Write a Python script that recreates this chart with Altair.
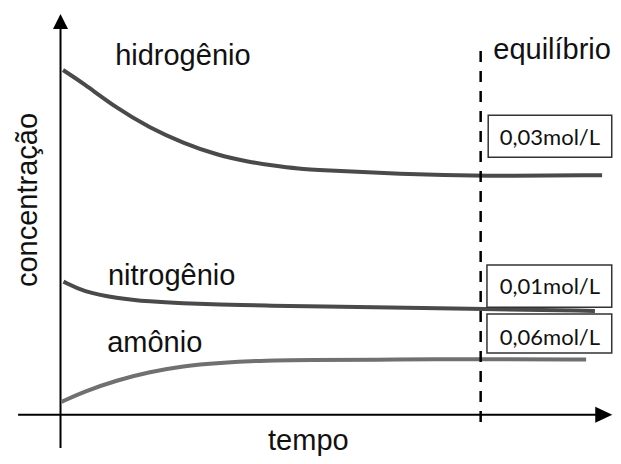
import altair as alt
import pandas as pd

h_t = [0.06, 0.54, 1.34, 2.13, 2.92, 3.73, 4.51, 4.99, 5.70, 6.18, 8.08, 10.01, 12.89]
h_c = [100.0, 96.2, 88.9, 83.2, 78.8, 75.3, 73.3, 72.4, 71.3, 71.0, 69.8, 69.2, 69.5]

n_t = [0.07, 0.54, 1.33, 2.13, 2.92, 3.72, 4.99, 5.70, 10.01, 12.72]
n_c = [38.6, 35.7, 33.8, 32.8, 32.3, 32.0, 31.6, 31.5, 30.65, 30.1]

a_t = [0.02, 0.54, 1.34, 2.13, 2.92, 3.73, 4.99, 5.70, 8.08, 10.01, 12.51]
a_c = [3.7, 6.6, 10.0, 12.4, 14.1, 15.0, 15.8, 15.85, 16.0, 16.1, 16.0]

series_names = ["hidrogênio", "nitrogênio", "amônio"]
series_colors = ["#4a4a4a", "#4a4a4a", "#707070"]

label_text = ["hidrogênio", "nitrogênio", "amônio", "equilíbrio", "tempo"]
label_t = [1.30, 1.13, 1.11, 10.30, 4.94]
label_c = [101.4, 37.6, 18.2, 103.2, -10.2]

box_text = ["0,03mol/L", "0,01mol/L", "0,06mol/L"]
box_t1 = [10.18, 10.15, 10.15]
box_t2 = [13.12, 13.12, 13.12]
box_c1 = [86.9, 43.4, 29.2]
box_c2 = [74.7, 31.2, 17.9]
box_text_t = [11.65, 11.65, 11.65]
box_text_c = [78.2, 35.0, 20.2]

equilibrium_t = 10.0

# ---- frames ----
rows = []
for name, ts, cs in zip(series_names, [h_t, n_t, a_t], [h_c, n_c, a_c]):
    for i, (t, c) in enumerate(zip(ts, cs)):
        rows.append({"serie": name, "t": t, "c": c, "o": i})
curves_df = pd.DataFrame(rows)
labels_df = pd.DataFrame({"text": label_text, "t": label_t, "c": label_c})
boxes_df = pd.DataFrame({"t1": box_t1, "t2": box_t2, "c1": box_c1, "c2": box_c2,
                         "text": box_text, "tt": box_text_t, "tc": box_text_c})

xs = alt.Scale(domain=[-1.25, 13.15], nice=False, zero=False)
ys = alt.Scale(domain=[-12, 118], nice=False, zero=False)
X = lambda f: alt.X(f, type="quantitative", scale=xs, axis=None)
Y = lambda f: alt.Y(f, type="quantitative", scale=ys, axis=None)

# axes
yaxis_df = pd.DataFrame({"t": [0.0], "c1": [-9.7], "c2": [111.9]})
xaxis_df = pd.DataFrame({"c": [0.0], "t1": [-1.01], "t2": [12.79]})
yaxis = alt.Chart(yaxis_df).mark_rule(color="#000", strokeWidth=2).encode(
    x=X("t"), y=Y("c1"), y2="c2")
xaxis = alt.Chart(xaxis_df).mark_rule(color="#000", strokeWidth=2).encode(
    y=Y("c"), x=X("t1"), x2="t2")
yarrow = alt.Chart(pd.DataFrame({"t": [0.0], "c": [114.1]})).mark_point(
    shape="M0,-1L1,1L-1,1Z", size=225, filled=True, color="#000", opacity=1).encode(
    x=X("t"), y=Y("c"))
xarrow = alt.Chart(pd.DataFrame({"t": [12.93], "c": [0.0]})).mark_point(
    shape="M1,0L-1,-0.94L-1,0.94Z", size=289, filled=True, color="#000", opacity=1).encode(
    x=X("t"), y=Y("c"))

dash_df = pd.DataFrame({"t": [equilibrium_t], "c1": [-2.1], "c2": [106.7]})
dashed = alt.Chart(dash_df).mark_rule(color="#000", strokeWidth=2.5, strokeDash=[11, 9]).encode(
    x=X("t"), y=Y("c1"), y2="c2")

curves = alt.Chart(curves_df).mark_line(strokeWidth=4, interpolate="basis").encode(
    x=X("t"), y=Y("c"), order="o:Q",
    color=alt.Color("serie:N", scale=alt.Scale(domain=series_names, range=series_colors), legend=None),
    detail="serie:N")

labels = alt.Chart(labels_df).mark_text(
    font="Liberation Sans", fontSize=29, align="left", baseline="alphabetic", color="#111").encode(
    x=X("t"), y=Y("c"), text="text:N")

ylabel = alt.Chart(pd.DataFrame({"text": ["concentração"], "t": [-0.56], "c": [62.3]})).mark_text(
    font="Liberation Sans", fontSize=29, align="center", baseline="alphabetic", angle=270,
    color="#111").encode(x=X("t"), y=Y("c"), text="text:N")

boxes = alt.Chart(boxes_df).mark_rect(fill="white", stroke="#333", strokeWidth=1.5).encode(
    x=X("t1"), x2="t2", y=Y("c1"), y2="c2")
box_labels = alt.Chart(boxes_df).mark_text(
    font="Lato", fontSize=22, align="center", baseline="alphabetic", color="#111").encode(
    x=X("tt"), y=Y("tc"), text="text:N")

chart = alt.layer(
    xaxis, yaxis, xarrow, yarrow, curves, dashed, boxes, box_labels, labels, ylabel
).properties(
    width=605, height=448,
    autosize=alt.AutoSizeParams(type="none"),
    padding={"left": 0, "top": 0, "right": 0, "bottom": 0},
    background="white",
).configure_view(stroke=None)

chart.save("out.html", embed_options={"renderer": "svg", "actions": False})
